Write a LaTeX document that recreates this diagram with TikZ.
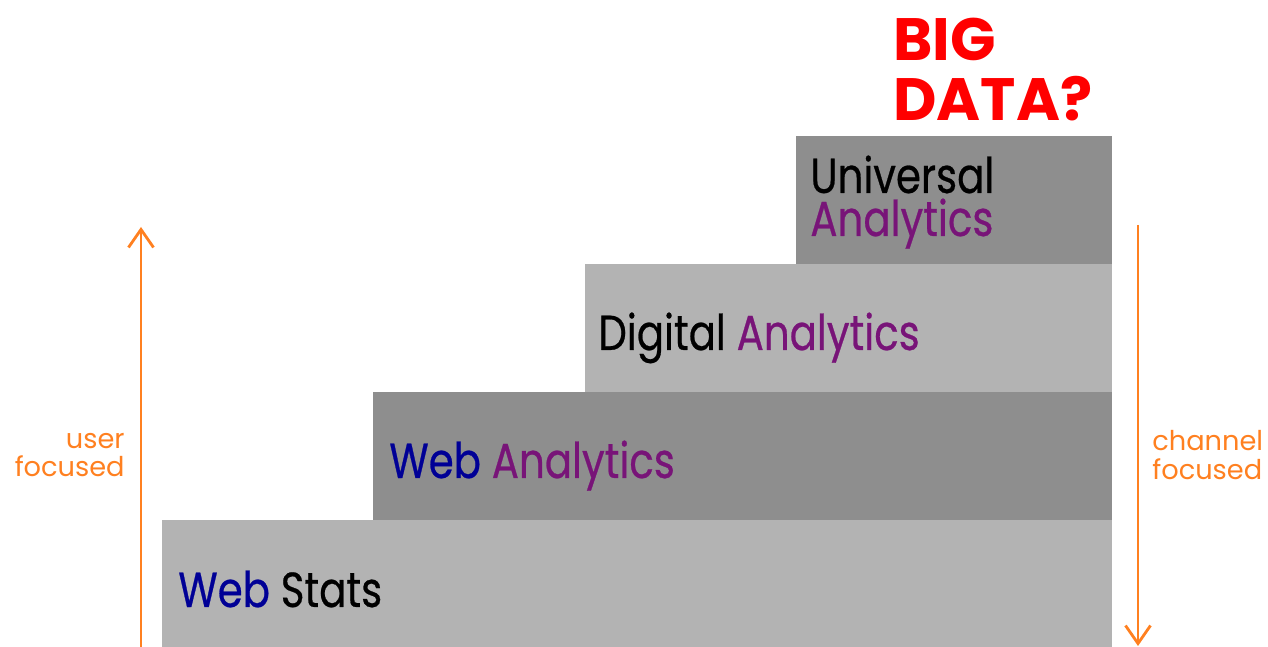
\documentclass[tikz,border=0pt]{standalone}
\usepackage{fontspec}
\setmainfont{Poppins}[FakeStretch=0.82,FakeBold=0.5]
\newfontfamily\headfont{Poppins}
\usetikzlibrary{arrows.meta,positioning}
\definecolor{lightstep}{RGB}{179,179,179}
\definecolor{darkstep}{RGB}{142,142,142}
\definecolor{webblue}{RGB}{0,0,150}
\definecolor{anapurple}{RGB}{120,20,120}
\definecolor{accent}{RGB}{255,128,32}
\definecolor{bigred}{RGB}{255,0,0}
\begin{document}
\begin{tikzpicture}
  \tikzset{
    stepbox/.style={rectangle,anchor=south west,minimum height=2.56cm,inner sep=0pt,outer sep=0pt},
    steplabel/.style={anchor=base west,inner sep=0pt,align=left,font=\fontsize{28}{24.5}\selectfont},
    sidearrow/.style={draw=accent,line width=1.6pt,-{Straight Barb[length=0.36cm,width=0.5cm]}},
    sidelabel/.style={text=accent,inner sep=0pt,font=\headfont\fontsize{15.5}{16}\selectfont}
  }
  \useasboundingbox (0,0) rectangle (25.36,12.94);

  % the four steps
  \node[stepbox,fill=lightstep,minimum width=19cm] (stats) at (3.24,-0.02) {};
  \node[stepbox,fill=darkstep,minimum width=14.78cm] (webana) at ([xshift=4.22cm]stats.north west) {};
  \node[stepbox,fill=lightstep,minimum width=10.54cm] (digital) at ([xshift=4.24cm]webana.north west) {};
  \node[stepbox,fill=darkstep,minimum width=6.32cm] (universal) at ([xshift=4.22cm]digital.north west) {};

  \node[steplabel] (statslbl) at ([shift={(0.32,0.82)}]stats.south west) {\textcolor{webblue}{Web} Stats};
  \node[steplabel] (webanalbl) at ([shift={(0.32,0.84)}]webana.south west) {\textcolor{webblue}{Web} \textcolor{anapurple}{Analytics}};
  \node[steplabel] (digitallbl) at ([shift={(0.26,0.84)}]digital.south west) {Digital \textcolor{anapurple}{Analytics}};
  \node[steplabel] (universallbl) at ([shift={(0.28,0.56)}]universal.south west) {Universal\\\textcolor{anapurple}{Analytics}};

  \node[anchor=north west,inner sep=0pt,align=left,text=bigred,font=\headfont\bfseries\fontsize{34}{34}\selectfont] (bigdata) at (17.86,12.58) {BIG\\DATA?};

  % side arrows
  \coordinate (ubase) at (2.82,0);
  \coordinate (utip) at (2.82,8.40);
  \coordinate (cstart) at (22.76,8.44);
  \coordinate (ctip) at (22.76,0.02);
  \draw[sidearrow] (ubase) -- (utip);
  \draw[sidearrow] (cstart) -- (ctip);

  \node[sidelabel,align=right,anchor=east] (userlbl) at (2.50,3.84) {user\\focused};
  \node[sidelabel,align=left,anchor=west] (chanlbl) at (23.04,3.84) {channel\\focused};
\end{tikzpicture}
\end{document}
